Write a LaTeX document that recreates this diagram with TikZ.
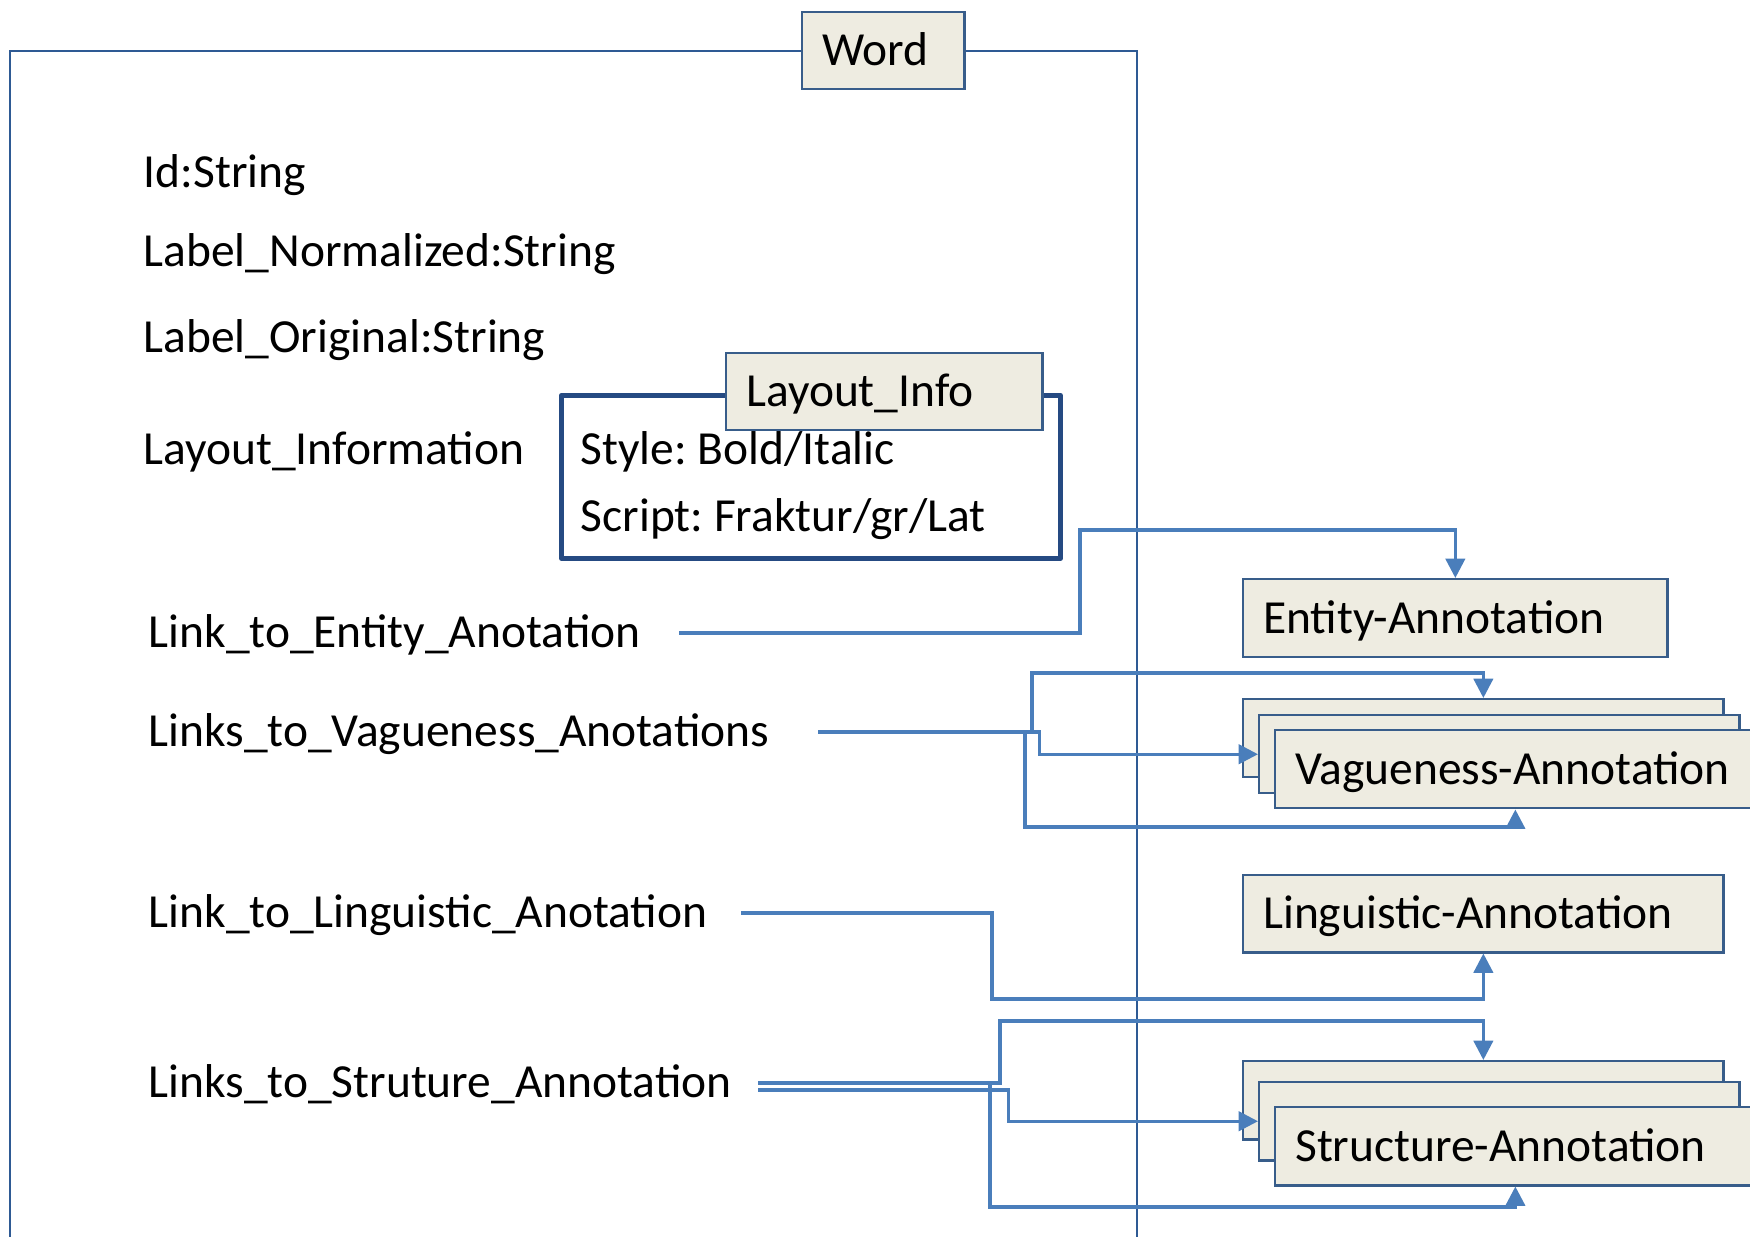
\documentclass[tikz,border=0pt]{standalone}
\usepackage{fontspec}
\setmainfont{Carlito}
\usepackage{tikz}
\usetikzlibrary{positioning}
\usetikzlibrary{arrows.meta}
\definecolor{boxfill}{HTML}{EEECE1}
\definecolor{boxline}{HTML}{385D8A}
\definecolor{frameblue}{HTML}{2E5A94}
\definecolor{infoblue}{HTML}{254A82}
\definecolor{linkblue}{HTML}{4A7EBB}
\frenchspacing

\begin{document}
\begin{tikzpicture}[x=0.01cm, y=-0.01cm,
  every node/.style={font=\fontsize{13.5pt}{16pt}\selectfont, text height=10.8pt, text depth=2.3pt},
  attr/.style={anchor=base west, inner sep=0pt},
  annbox/.style={draw=boxline, line width=0.7pt, fill=boxfill, anchor=north west,
    inner xsep=0.2cm, inner ysep=0pt, align=left, text width=#1, minimum height=0.78cm},
  frameline/.style={draw=frameblue, line width=0.6pt},
  linkline/.style={draw=linkblue, line width=0.9pt, -{Triangle[length=5.5pt,width=5.5pt]}}]

\useasboundingbox (0,0) rectangle (1750,1237);

%%%%%%%%%% Word frame %%%%%%%%
{
\node[annbox=1.22cm, minimum height=0.77cm] (word) at (801,11) {Word};
\draw[frameline] (10,1240) |- (word.west);
\draw[frameline] (word.east) -| (1137,1240);
}

%%%%%%%%%% Attributes %%%%%%%%
{
\node[attr] (id) at (143,188) {Id:String};
\node[attr] (lnorm) at (143,267) {Label\_Normalized:String};
\node[attr] (lorig) at (143,353) {Label\_Original:String};
\node[attr] (layout) at (143,465) {Layout\_Information};
}

%%%%%%%%%% Layout info %%%%%%%%
{
\node[draw=infoblue, line width=1.3pt, line join=round, fill=white, anchor=north west,
  minimum width=4.99cm, minimum height=1.63cm, inner sep=0pt] (info) at (559,393) {};
\node[annbox=2.76cm, minimum height=0.77cm] (infotitle) at (725,352) {Layout\_Info};
\node[attr] (style) at (580,465) {Style: Bold/Italic};
\node[attr] (script) at (580,532) {Script: Fraktur/gr/Lat};
}

%%%%%%%%%% Links %%%%%%%%
{
\node[attr] (lent) at (148,648) {Link\_to\_Entity\_Anotation};
\node[attr] (lvag) at (148,747) {Links\_to\_Vagueness\_Anotations};
\node[attr] (lling) at (148,928) {Link\_to\_Linguistic\_Anotation};
\node[attr] (lstr) at (148,1098) {Links\_to\_Struture\_Annotation};
}

%%%%%%%%%% Annotations %%%%%%%%
{
\node[annbox=3.84cm] (ent) at (1242,578) {Entity-Annotation};

\node[annbox=4.4cm] (vag1) at (1242,698) {};
\node[annbox=4.4cm] (vag2) at (1258,714) {};
\node[annbox=4.4cm] (vag3) at (1274,729) {Vagueness-Annotation};

\node[annbox=4.4cm, minimum height=0.77cm] (ling) at (1242,874) {Linguistic-Annotation};

\node[annbox=4.4cm] (str1) at (1242,1060) {};
\node[annbox=4.4cm] (str2) at (1258,1081) {};
\node[annbox=4.4cm] (str3) at (1274,1106) {Structure-Annotation};
}

%%%%%%%%%% Connectors %%%%%%%%
{
\draw[linkline] ([xshift=0.38cm]lent.east) -| (1080,530) -| (ent.north);

\draw[linkline] ([xshift=0.48cm]lvag.east) -| (1032,673) -| (vag1.north);
\draw[linkline] ([xshift=0.48cm]lvag.east) -| ([xshift=-2.18cm]vag2.west) -- (vag2.west);
\draw[linkline] ([xshift=0.48cm]lvag.east) -| (1025,827) -| (vag3.south);

\draw[linkline] ([xshift=0.33cm]lling.east) -| (992,999) -| (ling.south);

\draw[linkline] ([xshift=0.26cm]lstr.east) -| (1000,1021) -| (str1.north);
\draw[linkline] ([xshift=0.26cm,yshift=-0.07cm]lstr.east) -| ([xshift=-2.49cm]str2.west) -- (str2.west);
\draw[linkline] ([xshift=0.26cm]lstr.east) -| (990,1207) -| (str3.south);
}

\end{tikzpicture}
\end{document}
